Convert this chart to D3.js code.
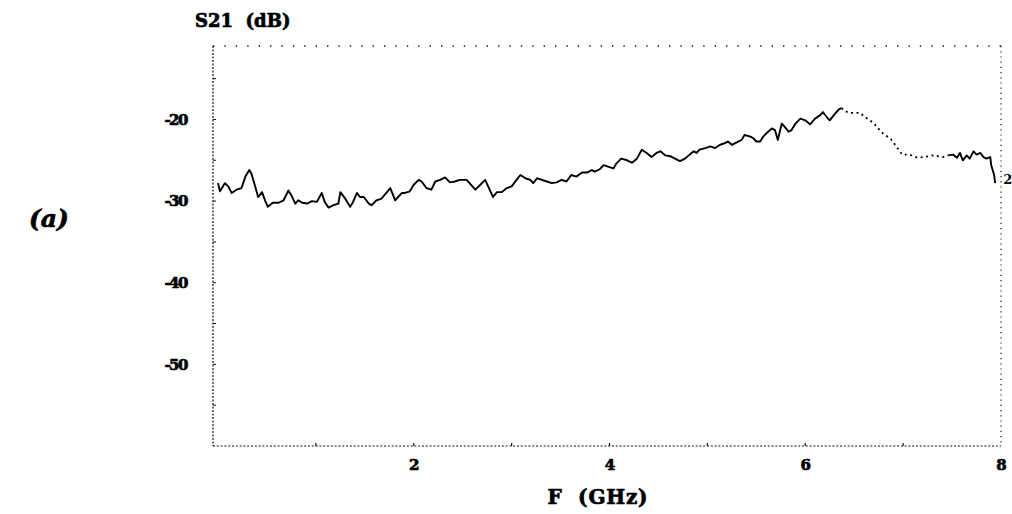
<!DOCTYPE html>
<html>
<head>
<meta charset="utf-8">
<script src="https://cdn.jsdelivr.net/npm/d3@7"></script>
<style>
  html, body { margin: 0; padding: 0; background: #fff; }
  svg { display: block; }
  text { font-family: "DejaVu Serif", "Liberation Serif", serif; font-weight: bold; fill: #000; }
  .heavy { stroke: #000; stroke-width: 0.7px; }
</style>
</head>
<body>
<svg id="chart" width="1012" height="514"></svg>
<script>
// Measured transmission S21 (dB) against frequency (GHz)
const freqGHz = [
  0.00, 0.02, 0.07, 0.105, 0.14, 0.19, 0.24, 0.28, 0.32, 0.34, 0.38, 0.41, 0.45, 0.48, 0.51, 0.56,
  0.62, 0.67, 0.72, 0.75, 0.79, 0.82, 0.86, 0.91, 0.96, 1.01, 1.06, 1.09, 1.13, 1.18, 1.23, 1.25,
  1.30, 1.35, 1.38, 1.42, 1.45, 1.49, 1.54, 1.57, 1.62, 1.67, 1.72, 1.76, 1.78, 1.81, 1.84, 1.88,
  1.91, 1.96, 2.00, 2.05, 2.08, 2.13, 2.18, 2.22, 2.27, 2.32, 2.37, 2.42, 2.47, 2.54, 2.57, 2.63,
  2.68, 2.73, 2.76, 2.81, 2.85, 2.90, 2.95, 3.00, 3.05, 3.09, 3.14, 3.19, 3.22, 3.26, 3.31, 3.36,
  3.41, 3.46, 3.51, 3.56, 3.61, 3.66, 3.72, 3.77, 3.82, 3.85, 3.90, 3.94, 3.99, 4.04, 4.07, 4.12,
  4.18, 4.23, 4.28, 4.33, 4.38, 4.43, 4.48, 4.52, 4.57, 4.62, 4.67, 4.72, 4.77, 4.81, 4.86, 4.89,
  4.92, 4.98, 5.03, 5.08, 5.13, 5.18, 5.21, 5.25, 5.30, 5.35, 5.38, 5.44, 5.47, 5.50, 5.54, 5.57,
  5.62, 5.66, 5.69, 5.72, 5.76, 5.79, 5.83, 5.86, 5.90, 5.95, 6.00, 6.05, 6.10, 6.15, 6.18, 6.22,
  6.25, 6.29, 6.34, 6.37, 6.41, 6.46, 6.51, 6.56, 6.61, 6.66, 6.71, 6.76, 6.81, 6.87, 6.93, 6.99,
  7.04, 7.09, 7.15, 7.21, 7.31, 7.41, 7.46, 7.51, 7.55, 7.58, 7.61, 7.65, 7.68, 7.72, 7.75, 7.79,
  7.82, 7.85, 7.89, 7.90, 7.93, 7.94
];
const s21dB = [
  -27.8, -28.8, -27.8, -28.2, -29.0, -28.6, -28.4, -27.0, -26.2, -26.6, -28.2, -29.5, -28.9, -29.9, -30.7, -30.2,
  -30.2, -29.9, -28.7, -29.3, -30.3, -29.9, -30.2, -30.3, -30.0, -30.1, -29.0, -30.1, -30.8, -30.5, -30.3, -28.9,
  -29.7, -30.7, -30.1, -29.0, -29.5, -29.5, -30.3, -30.5, -29.9, -29.7, -29.0, -28.4, -29.0, -29.9, -29.5, -29.0,
  -29.0, -28.8, -28.0, -27.4, -27.6, -28.4, -28.6, -27.6, -27.4, -27.1, -27.7, -27.6, -27.4, -27.4, -27.8, -28.6,
  -28.0, -27.4, -28.2, -29.5, -28.9, -28.9, -28.4, -28.2, -27.4, -26.8, -27.2, -27.4, -27.8, -27.2, -27.4, -27.6,
  -27.8, -27.7, -27.4, -27.6, -26.8, -27.0, -26.5, -26.5, -26.2, -26.4, -26.1, -25.6, -25.8, -26.0, -25.4, -24.8,
  -25.0, -25.3, -24.8, -23.7, -24.1, -24.6, -24.1, -23.9, -24.4, -24.5, -24.8, -25.1, -24.8, -24.4, -23.9, -24.1,
  -23.7, -23.5, -23.3, -23.5, -23.1, -22.9, -22.7, -23.1, -22.8, -22.5, -21.9, -22.1, -22.3, -22.7, -22.7, -22.1,
  -21.5, -21.1, -21.3, -22.5, -20.5, -20.9, -21.5, -21.3, -20.5, -19.9, -20.1, -20.6, -19.9, -19.5, -19.1, -19.7,
  -20.1, -19.5, -18.8, -18.6, -19.0, -19.2, -19.2, -19.2, -19.7, -20.1, -20.6, -21.3, -21.9, -22.3, -23.3, -24.3,
  -24.3, -24.4, -24.7, -24.6, -24.4, -24.6, -24.4, -24.3, -24.7, -24.1, -25.0, -24.4, -24.8, -23.9, -24.3, -24.1,
  -24.6, -24.8, -24.6, -25.6, -26.8, -27.8
];

const xTicks = [2, 4, 6, 8];
const yTicks = [-20, -30, -40, -50];
const xMinorTicks = [1, 2, 3, 4, 5, 6, 7];
const yMinorTicks = [-15, -20, -25, -30, -35, -40, -45, -50, -55];
const traceLabel = "2";

const svg = d3.select("#chart");
svg.append("rect").attr("width", 1012).attr("height", 514).attr("fill", "#fff");

const plotLeft = 213, plotRight = 1001, plotTop = 46, plotBottom = 446;
const x = d3.scaleLinear().domain([0, 8]).range([218, plotRight]);
const y = d3.scaleLinear().domain([-60, -11]).range([plotBottom, plotTop]);

// Dotted plot frame
const frame = svg.append("g").attr("stroke", "#111").attr("fill", "none");
frame.append("line").attr("x1", plotLeft).attr("x2", plotRight).attr("y1", plotTop).attr("y2", plotTop)
  .attr("stroke-width", 1.4).attr("stroke-dasharray", "1.4,10");
frame.append("line").attr("x1", plotLeft).attr("x2", plotLeft).attr("y1", plotTop).attr("y2", plotBottom)
  .attr("stroke-width", 1.2).attr("stroke-dasharray", "2,1.5");
frame.append("line").attr("x1", plotLeft).attr("x2", plotRight).attr("y1", plotBottom).attr("y2", plotBottom)
  .attr("stroke-width", 1.2).attr("stroke-dasharray", "2,1.8");
frame.append("line").attr("x1", plotRight).attr("x2", plotRight).attr("y1", plotTop).attr("y2", plotBottom)
  .attr("stroke-width", 1.2).attr("stroke-dasharray", "1.2,4");

// Minor tick marks
frame.selectAll(".xm").data(xMinorTicks).join("line")
  .attr("x1", d => x(d)).attr("x2", d => x(d))
  .attr("y1", plotBottom).attr("y2", plotBottom - 3).attr("stroke-width", 1.2);
frame.selectAll(".ym").data(yMinorTicks).join("line")
  .attr("x1", plotLeft).attr("x2", plotLeft + 3)
  .attr("y1", d => y(d)).attr("y2", d => y(d)).attr("stroke-width", 1);

// Axis labels via d3 axes (tick lines hidden)
const xAxis = svg.append("g").attr("transform", `translate(0,${plotBottom})`)
  .call(d3.axisBottom(x).tickValues(xTicks).tickFormat(d3.format("d")).tickSize(0).tickPadding(13));
const yAxis = svg.append("g").attr("transform", `translate(${plotLeft},0)`)
  .call(d3.axisLeft(y).tickValues(yTicks).tickFormat(d => "-" + Math.abs(d)).tickSize(0).tickPadding(26));
[xAxis, yAxis].forEach(g => {
  g.select(".domain").remove();
  g.selectAll("text").attr("font-family", "DejaVu Serif, serif").attr("font-weight", "bold")
    .attr("font-size", 15).attr("fill", "#000").attr("class", "heavy");
});
yAxis.selectAll("text").attr("letter-spacing", "-1.5");

// S21 trace
const pts = freqGHz.map((f, i) => [f, s21dB[i]]);
const line = d3.line().x(d => x(d[0])).y(d => y(d[1])).curve(d3.curveLinear);
const solidA = pts.filter(d => d[0] <= 6.37);
const dotted = pts.filter(d => d[0] >= 6.37 && d[0] <= 7.46);
const solidB = pts.filter(d => d[0] >= 7.46);
svg.append("path").attr("d", line(solidA)).attr("fill", "none").attr("stroke", "#000")
  .attr("stroke-width", 1.9).attr("stroke-linejoin", "round");
svg.append("path").attr("d", line(dotted)).attr("fill", "none").attr("stroke", "#000")
  .attr("stroke-width", 1.8).attr("stroke-dasharray", "2,3.5");
svg.append("path").attr("d", line(solidB)).attr("fill", "none").attr("stroke", "#000")
  .attr("stroke-width", 1.9).attr("stroke-linejoin", "round");

// Trace number at the end of the curve
const last = pts[pts.length - 1];
svg.append("text").attr("x", x(last[0]) + 8).attr("y", y(last[1]) + 1)
  .attr("font-family", "DejaVu Sans, sans-serif").attr("font-weight", "bold")
  .attr("font-size", 13).text(traceLabel);

// Titles
svg.append("text").attr("x", 195).attr("y", 27).attr("font-size", 18).attr("class", "heavy")
  .style("white-space", "pre").text("S21  (dB)");
svg.append("text").attr("x", 598).attr("y", 504).attr("text-anchor", "middle")
  .attr("font-size", 20).attr("letter-spacing", "0.8").attr("class", "heavy")
  .style("white-space", "pre").text("F  (GHz)");
svg.append("text").attr("x", 29).attr("y", 227).attr("font-size", 25).attr("class", "heavy")
  .attr("font-style", "italic").text("(a)");
</script>
</body>
</html>
